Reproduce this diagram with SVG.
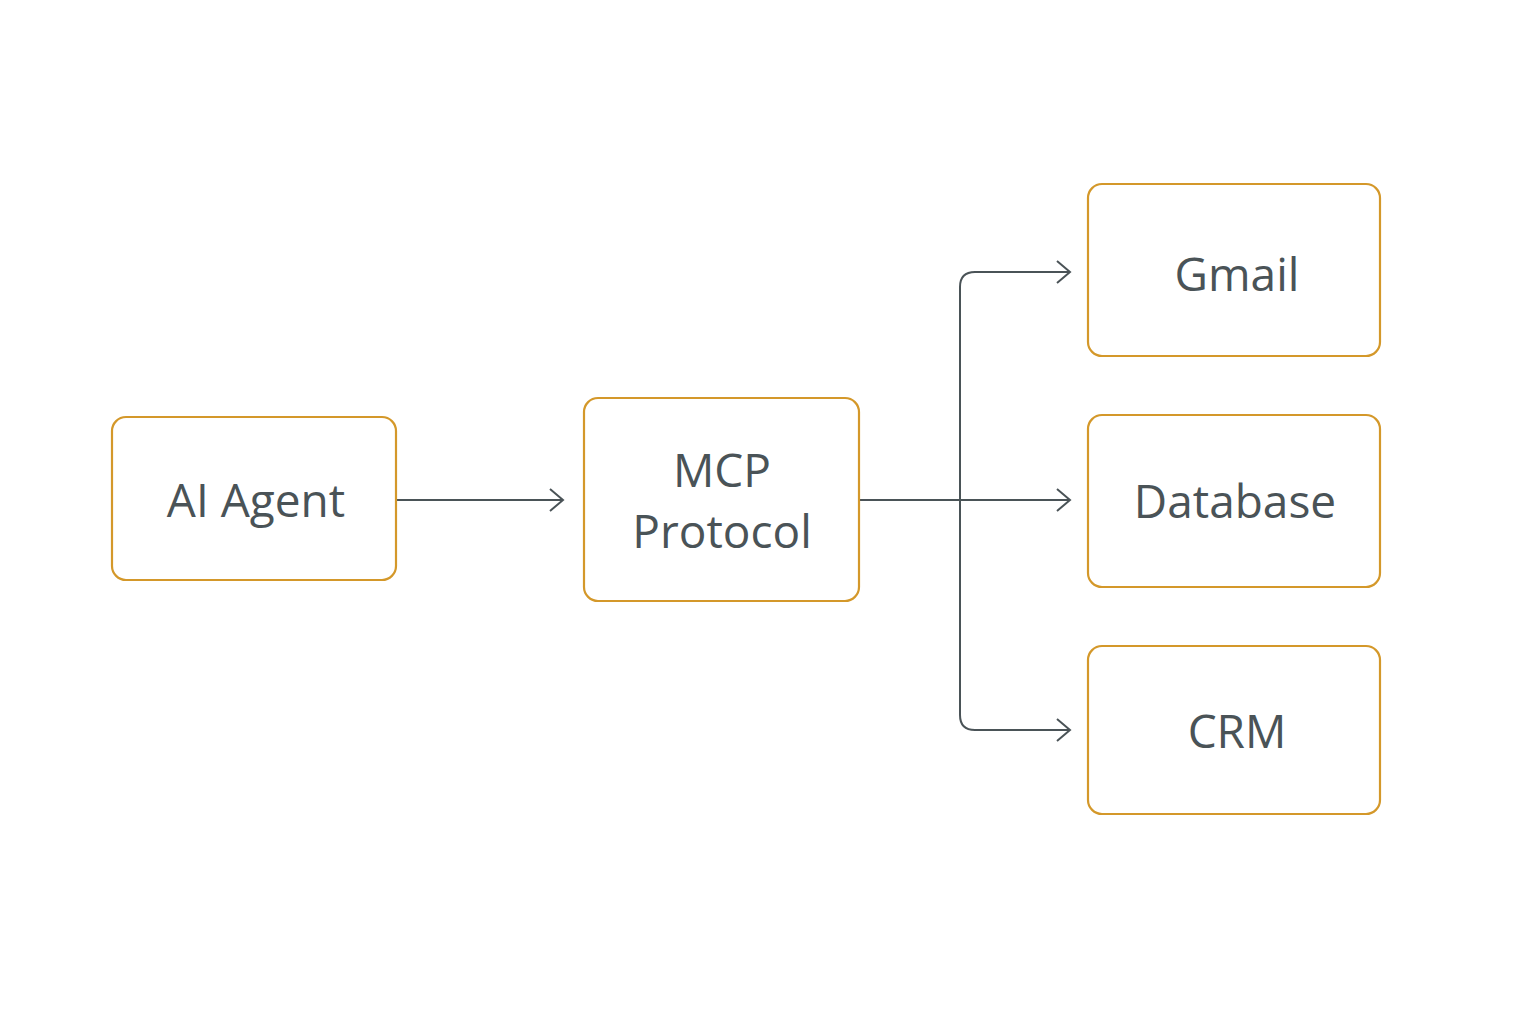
<svg xmlns="http://www.w3.org/2000/svg" width="1536" height="1024" viewBox="0 0 1536 1024">
<style>
.n{fill:#fff;stroke:#d4982a;stroke-width:2.2}
.t{font-family:"Open Sans","Liberation Sans",sans-serif;font-size:46px;fill:#4a5357;text-anchor:middle}
.c{fill:none;stroke:#4a5357;stroke-width:2}
</style>
<defs><marker id="a" markerWidth="16" markerHeight="24" refX="14" refY="12" markerUnits="userSpaceOnUse" orient="auto"><path d="M1,1 L14,12 L1,23" fill="none" stroke="#4a5357" stroke-width="2"/></marker></defs>
<rect width="1536" height="1024" fill="#fff"/>
<g id="connectors">
<path class="c" d="M397,500 H563" marker-end="url(#a)"/>
<path class="c" d="M860,500 H1070" marker-end="url(#a)"/>
<path class="c" d="M1070,272 H975 Q960,272 960,287 V715 Q960,730 975,730 H1070" marker-end="url(#a)"/>
<path class="c" d="M1060,272 H1070" marker-end="url(#a)"/>
</g>
<g id="ai"><rect class="n" x="112" y="417" width="284" height="163" rx="14"/><text class="t" x="256" y="517">AI Agent</text></g>
<g id="mcp"><rect class="n" x="584" y="398" width="275" height="203" rx="14"/><text class="t" x="722" y="487">MCP</text><text class="t" x="722" y="548">Protocol</text></g>
<g id="gmail"><rect class="n" x="1088" y="184" width="292" height="172" rx="14"/><text class="t" x="1237" y="291">Gmail</text></g>
<g id="db"><rect class="n" x="1088" y="415" width="292" height="172" rx="14"/><text class="t" x="1235" y="518">Database</text></g>
<g id="crm"><rect class="n" x="1088" y="646" width="292" height="168" rx="14"/><text class="t" x="1237" y="748">CRM</text></g>
</svg>
